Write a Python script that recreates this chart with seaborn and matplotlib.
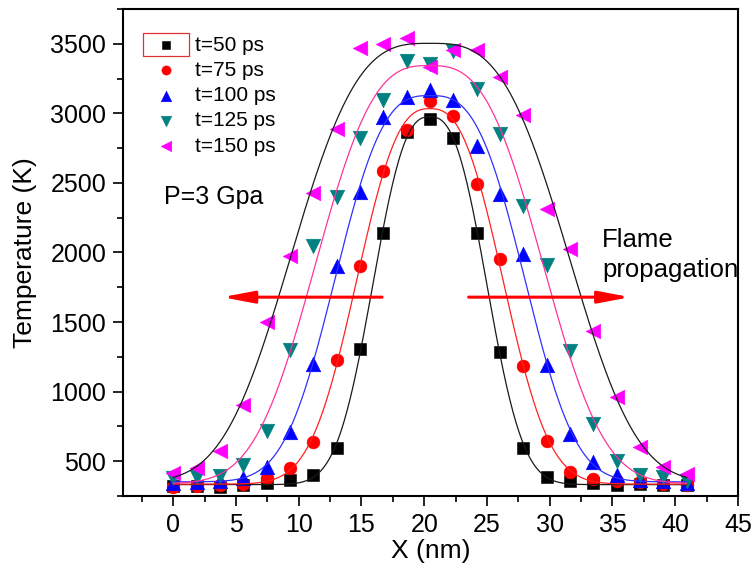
import numpy as np
import pandas as pd
import matplotlib
matplotlib.use("Agg")
import matplotlib.pyplot as plt
import seaborn as sns
from matplotlib.patches import Rectangle, FancyArrowPatch
from matplotlib.ticker import MultipleLocator

# Position along the sample (nm)
x_nm = [0.00, 1.86, 3.72, 5.58, 7.44, 9.30, 11.16, 13.02, 14.88, 16.74, 18.60, 20.46,
        22.32, 24.18, 26.04, 27.90, 29.76, 31.62, 33.48, 35.34, 37.20, 39.06, 40.92]

# Temperature profiles (K) at successive times
T_50 = [319, 323, 312, 331, 343, 366, 402, 593, 1307, 2141, 2867, 2962,
        2826, 2141, 1283, 598, 386, 355, 343, 326, 336, 326, 331]
T_75 = [318, 325, 330, 338, 379, 450, 641, 1229, 1902, 2586, 2880, 3088,
        2979, 2493, 1955, 1181, 648, 419, 371, 355, 348, 336, 331]
T_100 = [345, 350, 355, 380, 462, 707, 1200, 1902, 2438, 2974, 3121, 3169,
         3098, 2764, 2421, 1986, 1188, 693, 491, 402, 366, 359, 343]
T_125 = [379, 384, 391, 474, 716, 1302, 2045, 2398, 2826, 3093, 3379, 3355,
         3450, 3176, 2855, 2336, 1907, 1295, 771, 498, 402, 384, 359]
T_150 = [414, 450, 574, 907, 1498, 1974, 2426, 2884, 3470, 3500, 3545, 3331,
         3455, 3455, 3259, 2986, 2312, 2026, 1438, 962, 605, 462, 407]

labels = ["t=50 ps", "t=75 ps", "t=100 ps", "t=125 ps", "t=150 ps"]
series = [T_50, T_75, T_100, T_125, T_150]
marker_styles = ["s", "o", "^", "v", "<"]
marker_colors = ["#000000", "#FF0000", "#0000FF", "#008080", "#FF00FF"]
marker_sizes = [75, 85, 110, 110, 110]
curve_colors = ["#1a1a1a", "#FF2020", "#3030FF", "#FF3399", "#1a1a1a"]


def fit_profile(x, y):
    """Least-squares fit of y0 + A*exp(-(|x-xc|/w)**p) by grid search."""
    x = np.asarray(x, float)
    y = np.asarray(y, float)
    n = len(x)
    xcs = np.arange(18.5, 23.0, 0.05)
    ws = np.arange(3.0, 16.0, 0.05)
    best = None
    for p in np.arange(1.6, 4.01, 0.05):
        d = np.abs(x[None, None, :] - xcs[:, None, None])
        g = np.exp(-(d / ws[None, :, None]) ** p)
        sg = g.sum(-1)
        sgg = (g * g).sum(-1)
        sy = y.sum()
        sgy = (g * y).sum(-1)
        det = n * sgg - sg ** 2
        A = (n * sgy - sg * sy) / det
        y0 = (sy - A * sg) / n
        res = ((y0[..., None] + A[..., None] * g - y) ** 2).sum(-1)
        i = np.unravel_index(np.argmin(res), res.shape)
        if best is None or res[i] < best[0]:
            best = (res[i], xcs[i[0]], ws[i[1]], p, y0[i], A[i])
    return best[1:]


sns.set_style("ticks")
plt.rcParams["font.family"] = ["Liberation Sans", "DejaVu Sans"]
plt.rcParams.update({"text.color": "black", "axes.labelcolor": "black",
                     "xtick.color": "black", "ytick.color": "black",
                     "axes.edgecolor": "black"})

fig = plt.figure(figsize=(7.53, 5.73), dpi=100)
ax = fig.add_axes([123 / 753, 1 - 496 / 573, 615 / 753, 487 / 573])

xs = np.linspace(x_nm[0], x_nm[-1], 500)
for T, lab, m, mc, ms, cc in zip(series, labels, marker_styles, marker_colors,
                                 marker_sizes, curve_colors):
    df = pd.DataFrame({"X": x_nm, "T": T})
    sns.scatterplot(data=df, x="X", y="T", marker=m, color=mc, s=ms,
                    edgecolor=mc, linewidth=0.4, label=lab, ax=ax, zorder=2)
    xc, w, p, y0, A = fit_profile(x_nm, T)
    fit = pd.DataFrame({"X": xs, "T": y0 + A * np.exp(-(np.abs(xs - xc) / w) ** p)})
    sns.lineplot(data=fit, x="X", y="T", color=cc, lw=0.9, ax=ax,
                 legend=False, zorder=3)

ax.set_xlim(-4, 45)
ax.set_ylim(250, 3750)
ax.xaxis.set_minor_locator(MultipleLocator(2.5))
ax.yaxis.set_minor_locator(MultipleLocator(250))
ax.set_xticks([0, 5, 10, 15, 20, 25, 30, 35, 40, 45])
ax.set_yticks([500, 1000, 1500, 2000, 2500, 3000, 3500])

for s in ax.spines.values():
    s.set_linewidth(1.5)
    s.set_color("black")
ax.tick_params(axis="both", which="major", direction="out", length=7,
               width=1.2, labelsize=18, pad=5, color="black", labelcolor="black")
ax.tick_params(axis="both", which="minor", direction="out", length=4,
               width=1.2, color="black")

ax.set_xlabel("X (nm)", fontsize=19, color="black")
ax.set_ylabel("Temperature (K)", fontsize=19, color="black")
ax.xaxis.set_label_coords(0.5, -0.088)
ax.yaxis.set_label_coords(-0.14, 0.5)

leg = ax.legend(loc="upper left", bbox_to_anchor=(0.0395, 0.9624),
                frameon=False, fontsize=15, handlelength=1.0,
                handletextpad=0.9, labelspacing=0.3, borderaxespad=0,
                markerscale=0.72)
for t in leg.get_texts():
    t.set_color("black")

# selection box drawn around the first legend key
fig.patches.append(Rectangle((143 / 753, 1 - 56 / 573), 46 / 753, 23 / 573,
                             transform=fig.transFigure, fill=False,
                             edgecolor="#E03030", linewidth=0.9))

ax.text(-0.77, 2350, "P=3 Gpa", fontsize=18, va="baseline", ha="left", color="black")
ax.text(34.17, 2036, "Flame", fontsize=18.5, va="baseline", ha="left", color="black")
ax.text(34.17, 1821, "propagation", fontsize=18.5, va="baseline", ha="left", color="black")

# propagation arrows
for x0, x1 in [(16.64, 3.9), (23.54, 36.41)]:
    ax.add_patch(FancyArrowPatch((x0, 1679), (x1, 1679),
                                 arrowstyle="-|>,head_length=0.95,head_width=0.18",
                                 mutation_scale=20, color="#FF0000", lw=2.2,
                                 shrinkA=0, shrinkB=0, zorder=4))

fig.savefig("out.png", dpi=100)
